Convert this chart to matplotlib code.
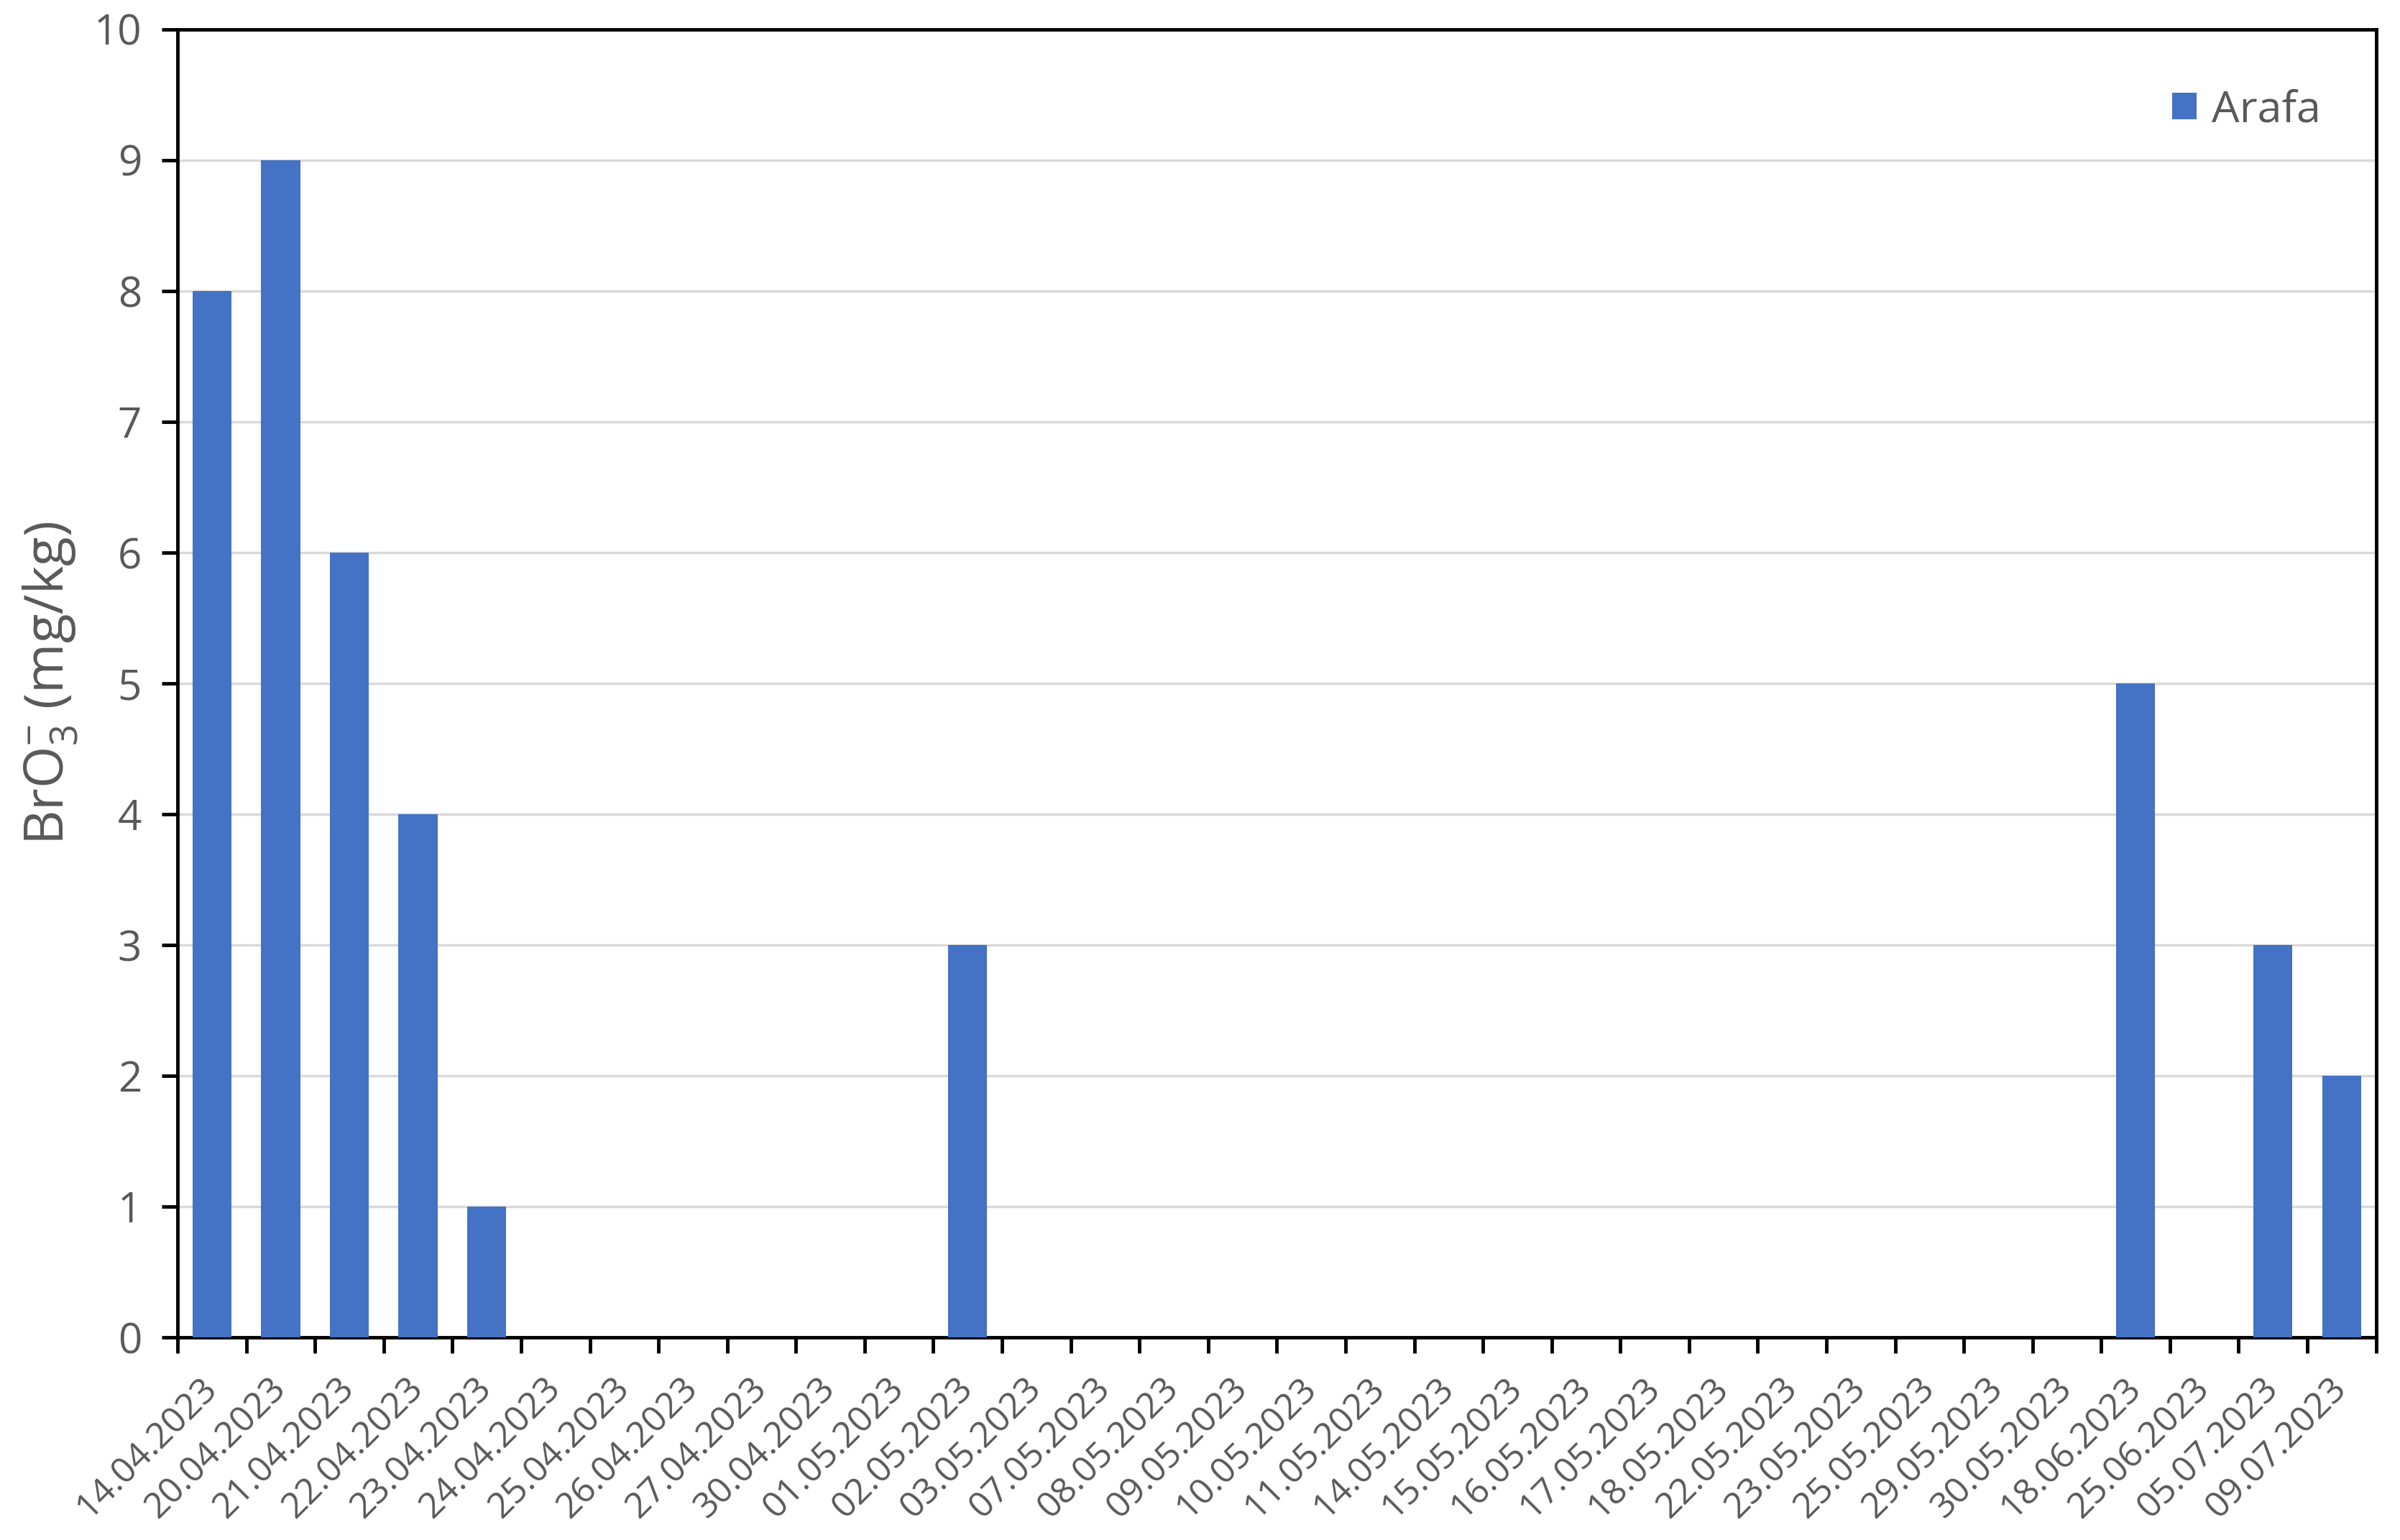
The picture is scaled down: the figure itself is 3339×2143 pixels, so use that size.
import numpy as np
import matplotlib
matplotlib.use('Agg')
import matplotlib.pyplot as plt
from matplotlib.ticker import FixedLocator

plt.rcParams['font.family'] = ['Open Sans', 'DejaVu Sans']
plt.rcParams['mathtext.fontset'] = 'custom'
plt.rcParams['mathtext.rm'] = 'Open Sans'
plt.rcParams['mathtext.it'] = 'Open Sans'

dates = ['14.04.2023', '20.04.2023', '21.04.2023', '22.04.2023', '23.04.2023',
         '24.04.2023', '25.04.2023', '26.04.2023', '27.04.2023', '30.04.2023',
         '01.05.2023', '02.05.2023', '03.05.2023', '07.05.2023', '08.05.2023',
         '09.05.2023', '10.05.2023', '11.05.2023', '14.05.2023', '15.05.2023',
         '16.05.2023', '17.05.2023', '18.05.2023', '22.05.2023', '23.05.2023',
         '25.05.2023', '29.05.2023', '30.05.2023', '18.06.2023', '25.06.2023',
         '05.07.2023', '09.07.2023']
arafa = [8, 9, 6, 4, 1, 0, 0, 0, 0, 0,
         0, 3, 0, 0, 0, 0, 0, 0, 0, 0,
         0, 0, 0, 0, 0, 0, 0, 0, 5, 0,
         3, 2]

grey = '#595959'

fig = plt.figure(figsize=(33.39, 21.43), dpi=100)
ax = fig.add_axes([0.074, 0.1316, 0.916, 0.8494])

x = np.arange(len(dates))
ax.bar(x, arafa, width=0.57, color='#4472C4', label='Arafa', zorder=3)

ax.set_xlim(-0.5, len(dates) - 0.5)
ax.set_ylim(0, 10)
ax.set_yticks(np.arange(0, 11, 1))
ax.yaxis.grid(True, color='#D9D9D9', linewidth=2.5, zorder=0)
ax.set_axisbelow(True)

ax.set_xticks(x)
ax.set_xticklabels(dates, rotation=45, ha='right', va='center',
                   rotation_mode='anchor', fontsize=36, color=grey)
ax.tick_params(axis='x', which='major', length=0, pad=46)
ax.xaxis.set_minor_locator(FixedLocator(np.arange(-0.5, len(dates), 1)))
ax.tick_params(axis='x', which='minor', length=16, width=3.5, direction='out')

ax.tick_params(axis='y', labelsize=42, labelcolor=grey, length=16, width=3.5,
               direction='out', pad=20)

for s in ax.spines.values():
    s.set_linewidth(3.5)
    s.set_color('black')

ax.set_ylabel(r'BrO$_3^{-}$ (mg/kg)', fontsize=54, color=grey, labelpad=14)

ax.legend(loc='upper right', fontsize=44, frameon=False, handlelength=0.55,
          handleheight=0.55, handletextpad=0.35, labelcolor=grey,
          bbox_to_anchor=(0.993, 0.985))

fig.savefig('out.png', dpi=100)
